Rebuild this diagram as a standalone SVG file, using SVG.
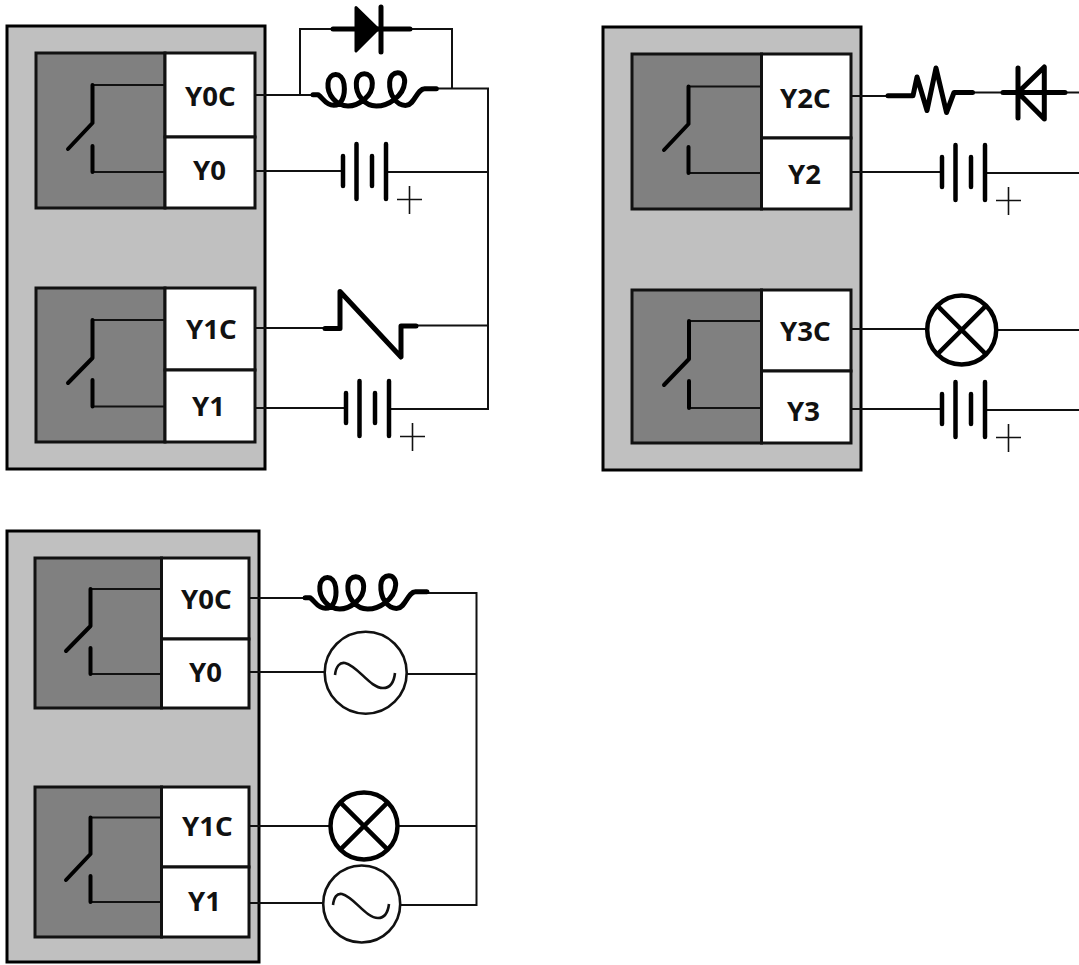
<svg xmlns="http://www.w3.org/2000/svg" width="1079" height="965" viewBox="0 0 1079 965">
<style>
.panel{fill:#c0c0c0;stroke:#000;stroke-width:3}
.dark{fill:#808080;stroke:#111;stroke-width:3}
.cell{fill:#fff;stroke:#111;stroke-width:3}
.wire{fill:none;stroke:#111;stroke-width:2}
.sw{fill:none;stroke:#000;stroke-width:4;stroke-linecap:round;stroke-linejoin:round}
.thick{fill:none;stroke:#000;stroke-width:5;stroke-linecap:round;stroke-linejoin:round}
.bar{fill:none;stroke:#000;stroke-width:4.5;stroke-linecap:round}
.thin{fill:none;stroke:#111;stroke-width:1.6}
.lamp{fill:none;stroke:#000;stroke-width:4.5}
.ac{fill:none;stroke:#111;stroke-width:2.6}
.lab{font-family:"Noto Sans","Open Sans",sans-serif;font-weight:700;font-size:27.5px;fill:#111}
</style>
<defs>
<g id="batt">
<path class="bar" d="M0 -15V15M13.500 -27V28M29 -15V15M43 -27V28"/>
<path class="thin" d="M54 28.500H79M66.500 15V43"/>
</g>
<path id="coil" class="thick" style="stroke-width:15" d="M0 0H15C30 10 38 32 62 32C85 32 98 5 93 -32C88 -70 48 -70 45 -34C42 0 70 34 105 34C135 34 180 5 178 -35C176 -72 132 -72 130 -35C128 0 155 34 190 34C225 34 272 5 275 -38C277 -75 232 -75 230 -38C228 0 250 34 280 32C305 30 312 -18 335 -18H370"/>
</defs>
<g id="plc-1">
<rect class="panel" x="7" y="26" width="258" height="443"/>
<g id="relay-y0">
<rect class="dark" x="36" y="53" width="129" height="155"/>
<rect class="cell" x="165" y="53" width="90" height="84"/>
<rect class="cell" x="165" y="137" width="90" height="71"/>
<path class="wire" d="M92.500 85H165M92.500 172H165"/>
<path class="sw" d="M92.500 85V123L68 149M92.500 146V172"/>
<text class="lab" x="185" y="106">Y0C</text>
<text class="lab" x="193" y="180">Y0</text>
</g>
<g id="relay-y1">
<rect class="dark" x="36" y="288" width="129" height="154"/>
<rect class="cell" x="165" y="288" width="90" height="82"/>
<rect class="cell" x="165" y="370" width="90" height="72"/>
<path class="wire" d="M92.500 320H165M92.500 406.500H165"/>
<path class="sw" d="M92.500 320V358L68 383M92.500 380V406.500"/>
<text class="lab" x="186" y="339">Y1C</text>
<text class="lab" x="192" y="416">Y1</text>
</g>
</g>
<g id="plc-2">
<rect class="panel" x="603" y="27" width="258" height="443"/>
<g id="relay-y2">
<rect class="dark" x="632" y="54" width="129.500" height="155"/>
<rect class="cell" x="761.500" y="54" width="89.500" height="84"/>
<rect class="cell" x="761.500" y="138" width="89.500" height="71"/>
<path class="wire" d="M688.500 86.500H761.500M688.500 173H761.500"/>
<path class="sw" d="M688.500 86.500V124L664 150M688.500 147V173"/>
<text class="lab" x="780" y="107.500">Y2C</text>
<text class="lab" x="788" y="184">Y2</text>
</g>
<g id="relay-y3">
<rect class="dark" x="632" y="290" width="129.500" height="153"/>
<rect class="cell" x="761.500" y="290" width="89.500" height="81"/>
<rect class="cell" x="761.500" y="371" width="89.500" height="72"/>
<path class="wire" d="M689 321H761.500M689 408H761.500"/>
<path class="sw" d="M689 321V359L664 385M689 381V408"/>
<text class="lab" x="780" y="341">Y3C</text>
<text class="lab" x="787" y="421">Y3</text>
</g>
</g>
<g id="plc-3">
<rect class="panel" x="7" y="531" width="252" height="431"/>
<g id="relay-b-y0">
<rect class="dark" x="35" y="558" width="126.500" height="150"/>
<rect class="cell" x="161.500" y="558" width="87.500" height="81"/>
<rect class="cell" x="161.500" y="639" width="87.500" height="69"/>
<path class="wire" d="M90.500 589H161.500M90.500 674H161.500"/>
<path class="sw" d="M90.500 589V626L66 651M90.500 648V674"/>
<text class="lab" x="181" y="609">Y0C</text>
<text class="lab" x="189" y="682">Y0</text>
</g>
<g id="relay-b-y1">
<rect class="dark" x="35" y="787" width="126.500" height="150"/>
<rect class="cell" x="161.500" y="787" width="87.500" height="80"/>
<rect class="cell" x="161.500" y="867" width="87.500" height="70"/>
<path class="wire" d="M90.500 817.500H161.500M90.500 902H161.500"/>
<path class="sw" d="M90.500 817.500V854L66 880M90.500 876V902"/>
<text class="lab" x="182" y="836">Y1C</text>
<text class="lab" x="188" y="911">Y1</text>
</g>
</g>
<g id="connectors">
<path class="wire" d="M255 95H313M300 95V29H333M410 29H452V88M437 88.500H488V409H389M255 171H343M386 172H488M255 328H325M416 325.500H488M255 408H346"/>
<path class="wire" d="M851 96H888M973 92.500H1003M1065 92.500H1079M851 172H942M984 173H1079M851 329H926M998 330H1079M851 409H942M984 410H1079"/>
<path class="wire" d="M249 598H305M427 593H476.500V905H401M249 672H324M407 674H476.500M249 826H330M399 826H476.500M249 903H323"/>
</g>
<g id="diode-1">
<path fill="#000" stroke="#000" stroke-width="3" stroke-linejoin="round" d="M356 7.500L378 29L356 51Z"/>
<path class="thick" d="M333 29H410M381 7V52"/>
</g>
<use id="coil-1" href="#coil" transform="translate(313 94.700) scale(.3333)"/>
<use id="battery-1" href="#batt" x="343" y="171"/>
<path id="relay-coil-1" class="thick" d="M325 328.500H340V291.500L401 357V326H416"/>
<use id="battery-2" href="#batt" x="346" y="408"/>
<path id="resistor" class="thick" d="M888 95.700H913L917 77L927 110.500L936 68L946.500 112.500L954 92.500H972.500"/>
<path id="diode-2" class="thick" d="M1003 92.500H1065M1018 68V118M1018 92.500L1044.300 67V119Z"/>
<use id="battery-3" href="#batt" x="942" y="172"/>
<g id="lamp-1">
<circle class="lamp" cx="961.700" cy="330" r="34.500"/>
<path class="lamp" d="M937.300 305.600L986.100 354.400M986.100 305.600L937.300 354.400"/>
</g>
<use id="battery-4" href="#batt" x="942" y="409"/>
<use id="coil-2" href="#coil" transform="translate(305 597.700) scale(.3297 .3333)"/>
<g id="ac-1">
<circle class="ac" cx="365.700" cy="672.700" r="41"/>
<path class="ac" d="M335 675C336 666 340 662 345 663C358 666 370 688 383 688C390 688 394 682 395 673"/>
</g>
<g id="lamp-2">
<circle class="lamp" cx="364" cy="826" r="33.500"/>
<path class="lamp" d="M340.300 802.300L387.700 849.700M387.700 802.300L340.300 849.700"/>
</g>
<g id="ac-2">
<circle class="ac" cx="361.700" cy="904" r="38.500"/>
<path class="ac" d="M333 905C334 897 337 893 342 894C354 897 366 918 378 918C385 918 388 912 389 904"/>
</g>
</svg>
